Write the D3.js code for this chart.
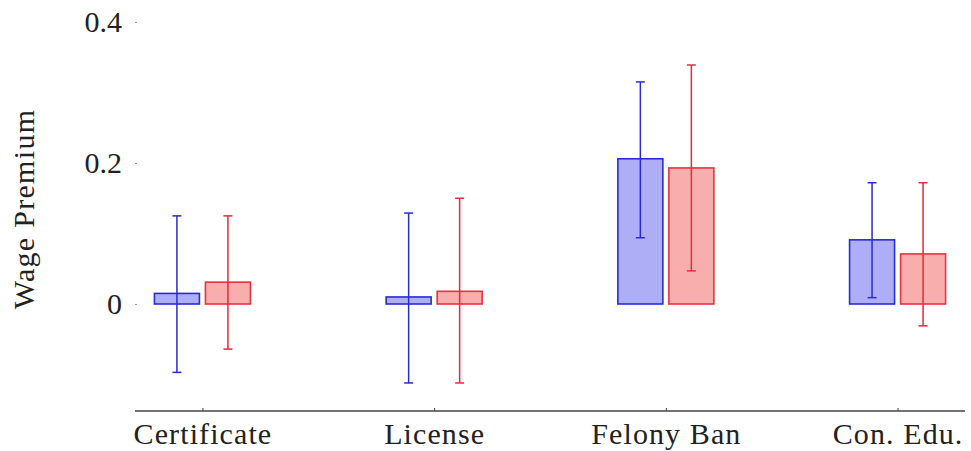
<!DOCTYPE html>
<html>
<head>
<meta charset="utf-8">
<script src="https://cdn.jsdelivr.net/npm/d3@7"></script>
<style>
  body { margin: 0; background: #fff; }
  svg { display: block; }
</style>
</head>
<body>
<div id="chart"></div>
<script>
// categorias e valores
var categorias = ['Certificate', 'License', 'Felony Ban', 'Con. Edu.'];
var series = ['azul', 'vermelho'];

var valAzul = [0.015, 0.010, 0.206, 0.091];
var infAzul = [-0.097, -0.112, 0.094, 0.009];
var supAzul = [0.125, 0.129, 0.315, 0.172];

var valVerm = [0.031, 0.018, 0.193, 0.071];
var infVerm = [-0.064, -0.112, 0.047, -0.031];
var supVerm = [0.125, 0.150, 0.339, 0.172];

var yTicks = [0, 0.2, 0.4];
var yTickLabels = ['0', '0.2', '0.4'];

var largura = 971, altura = 451;
var fonte = '"Liberation Serif", "DejaVu Serif", serif';

var cores = {
    azul:     { fill: '#aeaef7', stroke: '#2b2bd6', erro: '#2a2ad0' },
    vermelho: { fill: '#f9aeae', stroke: '#e8323f', erro: '#e62a3a' }
};

var svg = d3.select('#chart').append('svg')
    .attr('width', largura)
    .attr('height', altura);

var x = d3.scalePoint().domain(categorias).range([135, 965]).padding(0.291);
var xs = d3.scaleBand().domain(series).range([-48, 48]).paddingInner(0.118);
var y = d3.scaleLinear().domain([0, 0.4]).range([304, 22]);

// monta os dados a partir dos vetores
var dados = [];
categorias.forEach(function(c, i) {
    dados.push({ cat: c, serie: 'azul', v: valAzul[i], lo: infAzul[i], hi: supAzul[i] });
    dados.push({ cat: c, serie: 'vermelho', v: valVerm[i], lo: infVerm[i], hi: supVerm[i] });
});

// barras
svg.append('g').selectAll('rect')
    .data(dados)
    .enter()
    .append('rect')
    .attr('x', function(d) { return x(d.cat) + xs(d.serie); })
    .attr('y', function(d) { return Math.min(y(d.v), y(0)); })
    .attr('width', xs.bandwidth())
    .attr('height', function(d) { return Math.abs(y(0) - y(d.v)); })
    .style('fill', function(d) { return cores[d.serie].fill; })
    .style('stroke', function(d) { return cores[d.serie].stroke; })
    .style('stroke-width', 1.6);

// barras de erro
var gErro = svg.append('g');
dados.forEach(function(d) {
    var cx = x(d.cat) + xs(d.serie) + xs.bandwidth() / 2;
    var cor = cores[d.serie].erro;
    gErro.append('line')
        .attr('x1', cx).attr('x2', cx)
        .attr('y1', y(d.hi)).attr('y2', y(d.lo))
        .style('stroke', cor).style('stroke-width', 1.5);
    [d.hi, d.lo].forEach(function(v) {
        gErro.append('line')
            .attr('x1', cx - 4.5).attr('x2', cx + 4.5)
            .attr('y1', y(v)).attr('y2', y(v))
            .style('stroke', cor).style('stroke-width', 1.5);
    });
});

// eixo x
var eixoX = svg.append('g')
    .attr('transform', 'translate(0,411)')
    .call(d3.axisBottom(x).tickSizeInner(-3).tickSizeOuter(0).tickPadding(10));
eixoX.select('.domain').attr('d', 'M135,0H965').style('stroke', '#444').style('stroke-width', 1.6);
eixoX.selectAll('.tick line').style('stroke', '#444').style('stroke-width', 1);
eixoX.selectAll('.tick text')
    .attr('y', 33)
    .attr('dy', null)
    .style('font-family', fonte)
    .style('font-size', '30px')
    .style('letter-spacing', '1.1px')
    .style('fill', '#222');

// eixo y (só rótulos e marcas pequenas)
var eixoY = svg.append('g')
    .attr('transform', 'translate(137,0)')
    .call(d3.axisLeft(y).tickValues(yTicks)
        .tickFormat(function(d, i) { return yTickLabels[i]; })
        .tickSize(2).tickPadding(13));
eixoY.select('.domain').remove();
eixoY.selectAll('.tick line').style('stroke', '#999');
eixoY.selectAll('.tick text')
    .style('font-family', fonte)
    .style('font-size', '30px')
    .style('fill', '#222');

// título do eixo y
svg.append('text')
    .text('Wage Premium')
    .attr('transform', 'translate(34,209) rotate(-90)')
    .attr('text-anchor', 'middle')
    .style('font-family', fonte)
    .style('font-size', '30px')
    .style('letter-spacing', '1.3px')
    .style('fill', '#222');
</script>
</body>
</html>
